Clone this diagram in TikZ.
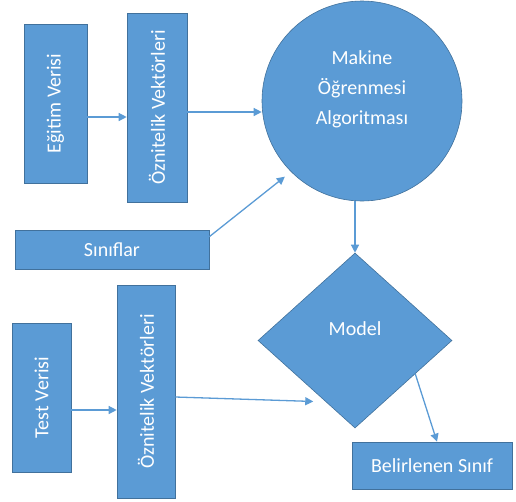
\documentclass[tikz,border=0pt]{standalone}
\usepackage{fontspec}
\setmainfont{Carlito}
\usepackage{xcolor}
\definecolor{officeBlue}{HTML}{5B9BD5}
\definecolor{officeBorder}{HTML}{41719C}
\usetikzlibrary{shapes.geometric, arrows.meta, positioning, calc}

\begin{document}
\begin{tikzpicture}[
        x=1pt, y=-1pt,
        blockNode/.style={
            draw=officeBorder,
            fill=officeBlue,
            line width=0.6pt,
            inner sep=0pt,
            font=\fontsize{20}{30}\selectfont,
            text=white
        },
        circleNode/.style={
            blockNode,
            circle,
            minimum size=200pt
        },
        diamondNode/.style={
            blockNode,
            diamond,
            minimum width=194pt,
            minimum height=175pt
        },
        labelText/.style={
            inner sep=0pt,
            align=center,
            font=\fontsize{20}{30}\selectfont,
            text=white
        },
        flowArrow/.style={
            -{Triangle[width=8pt,length=8pt]},
            officeBlue,
            line width=1.3pt
        }
    ]
    \useasboundingbox (0,0) rectangle (516,501);

    % Positions (Explicit Coordinates as in the Reference)
    \node[blockNode, minimum width=63pt, minimum height=159pt] (egitim) at (55.5, 103.5) {\rotatebox{90}{Eğitim Verisi}};
    \node[blockNode, minimum width=60pt, minimum height=189pt] (vekEgitim) at (157, 107.5) {\rotatebox{90}{Öznitelik Vektörleri}};
    \node[blockNode, minimum width=194pt, minimum height=39pt] (siniflar) at (112, 249.5) {Sınıflar};

    \node[circleNode] (algoritma) at (362, 101) {};
    \node[labelText] (algoritmaText) at ([yshift=12pt]algoritma.center) {Makine\\Öğrenmesi\\Algoritması};

    \node[diamondNode] (model) at (355, 340.5) {};
    \node[labelText] (modelText) at ([yshift=12pt]model.center) {Model};

    \node[blockNode, minimum width=59pt, minimum height=149pt] (test) at (41.5, 397.5) {\rotatebox{90}{Test Verisi}};
    \node[blockNode, minimum width=58pt, minimum height=213pt] (vekTest) at (146, 391.5) {\rotatebox{90}{Öznitelik Vektörleri}};

    \node[blockNode, minimum width=160pt, minimum height=47pt] (sinif) at (432, 465.5) {Belirlenen Sınıf};

    % Connections (Straight Arrows between the Blocks)
    \coordinate (egitimOut) at ([yshift=-13.5pt]egitim.east);
    \draw[flowArrow] (egitimOut) -- (egitimOut -| vekEgitim.west);

    \coordinate (vekEgitimOut) at ([yshift=-4.5pt]vekEgitim.east);
    \draw[flowArrow] (vekEgitimOut) -- (vekEgitimOut -| algoritma.west);

    \draw[flowArrow] ([yshift=-7pt]siniflar.north east) -- ([shift={(-5pt,-6pt)}]algoritma.224);

    \draw[flowArrow] (algoritma.south -| model.north) -- (model.north);

    \coordinate (testOut) at ([yshift=-12.5pt]test.east);
    \draw[flowArrow] (testOut) -- (testOut -| vekTest.west);

    \draw[flowArrow] ([yshift=-5.5pt]vekTest.east) -- ([xshift=-12pt]model.244);

    \draw[flowArrow] (model.331) -- ([xshift=5pt]sinif.north);

\end{tikzpicture}
\end{document}
